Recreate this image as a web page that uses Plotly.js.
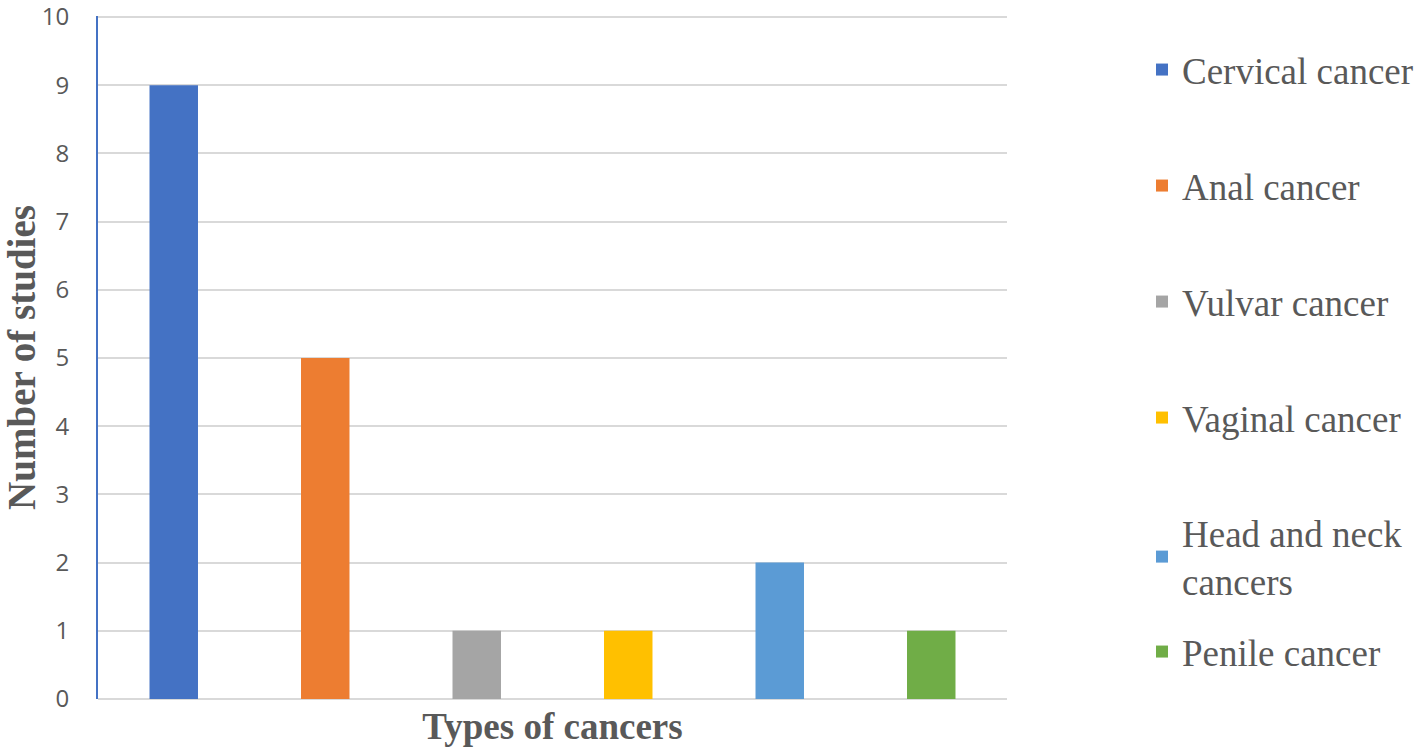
<!DOCTYPE html>
<html>
<head>
<meta charset="utf-8">
<script src="https://cdn.plot.ly/plotly-3.0.1.min.js"></script>
<style>html,body{margin:0;padding:0;background:#fff;}#chart{width:1418px;height:749px;}</style>
</head>
<body>
<div id="chart"></div>
<script>
const categories = ["Cervical cancer", "Anal cancer", "Vulvar cancer", "Vaginal cancer", "Head and neck cancers", "Penile cancer"];
const legendLabels = ["Cervical cancer", "Anal cancer", "Vulvar cancer", "Vaginal cancer", "Head and neck<br>cancers", "Penile cancer"];
const studies = [9, 5, 1, 1, 2, 1];
const colors = ["#4472C4", "#ED7D31", "#A5A5A5", "#FFC000", "#5B9BD5", "#70AD47"];
const yTicks = [0, 1, 2, 3, 4, 5, 6, 7, 8, 9, 10];

// legend item centres, in container fractions (from bottom)
const legendYs = [1 - 70 / 749, 1 - 186 / 749, 1 - 302 / 749, 1 - 418 / 749, 1 - 557 / 749, 1 - 652 / 749];
const legendNames = ["legend", "legend2", "legend3", "legend4", "legend5", "legend6"];

const traces = categories.map((c, i) => ({
  type: "bar",
  x: [c],
  y: [studies[i]],
  name: legendLabels[i],
  marker: { color: colors[i] },
  width: 0.32,
  legend: legendNames[i],
  hoverinfo: "x+y"
}));

const layout = {
  width: 1418,
  height: 749,
  margin: { l: 98, r: 411, t: 16, b: 50 },
  paper_bgcolor: "#ffffff",
  plot_bgcolor: "#ffffff",
  barmode: "overlay",
  showlegend: true,
  xaxis: {
    type: "category",
    categoryorder: "array",
    categoryarray: categories,
    showticklabels: false,
    showgrid: false,
    zeroline: false,
    showline: false,
    ticks: "",
    title: { text: "<b>Types of cancers</b>", font: { family: "Liberation Serif, Times New Roman, serif", size: 37, color: "#595959" }, standoff: 14 }
  },
  yaxis: {
    range: [0, 10.015],
    tickvals: yTicks,
    ticktext: yTicks.map(String),
    ticklabeloverflow: "allow",
    showgrid: true,
    gridcolor: "#D9D9D9",
    gridwidth: 2,
    zeroline: true,
    zerolinecolor: "#D9D9D9",
    zerolinewidth: 2,
    showline: true,
    linecolor: "#4472C4",
    linewidth: 2,
    ticks: "outside",
    ticklen: 22,
    tickcolor: "rgba(0,0,0,0)",
    tickfont: { family: "Open Sans, Liberation Sans, sans-serif", size: 24, color: "#595959" },
    title: { text: "<b>Number of studies</b>", font: { family: "Liberation Serif, Times New Roman, serif", size: 39, color: "#595959" }, standoff: 2 }
  },
  font: { family: "Liberation Serif, Times New Roman, serif", color: "#404040" }
};

legendNames.forEach((ln, i) => {
  layout[ln] = {
    xref: "container",
    yref: "container",
    x: 1142 / 1418,
    xanchor: "left",
    y: legendYs[i],
    yanchor: "middle",
    bgcolor: "rgba(0,0,0,0)",
    borderwidth: 0,
    font: { family: "Liberation Serif, Times New Roman, serif", size: 37, color: "#595959" },
    itemwidth: 30
  };
});

Plotly.newPlot("chart", traces, layout, { displayModeBar: false, staticPlot: true });
</script>
</body>
</html>
